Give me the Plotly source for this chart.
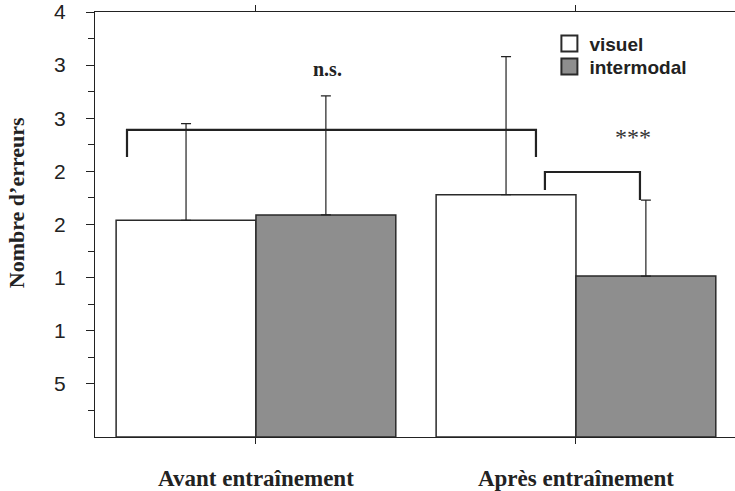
import plotly.graph_objects as go

categories = ["Avant entraînement", "Après entraînement"]
visuel = [2.04, 2.28]
visuel_err = [0.91, 1.30]
intermodal = [2.09, 1.515]
intermodal_err = [1.12, 0.715]
y_tickvals = [0.5, 1, 1.5, 2, 2.5, 3, 3.5, 4]
y_ticktext = ["5", "1", "1", "2", "2", "3", "3", "4"]

# significance brackets (x in category index units, y in data units)
bracket_ns_x = [-0.403, -0.403, 0.875, 0.875]
bracket_ns_y = [2.635, 2.89, 2.89, 2.635]
bracket_sig_x = [0.903, 0.903, 1.2, 1.2]
bracket_sig_y = [2.325, 2.494, 2.494, 2.231]

xs = [0, 1]
LINE = "#2a2a2a"
GRAY = "#8e8e8e"

fig = go.Figure()
fig.add_trace(go.Bar(
    x=xs, y=visuel, name="visuel", showlegend=False,
    marker=dict(color="white", line=dict(color=LINE, width=1.5)),
    error_y=dict(type="data", symmetric=False, array=visuel_err,
                 arrayminus=[0, 0], color="#222", thickness=1.2, width=5),
))
fig.add_trace(go.Bar(
    x=xs, y=intermodal, name="intermodal", showlegend=False,
    marker=dict(color=GRAY, line=dict(color=LINE, width=1.5)),
    error_y=dict(type="data", symmetric=False, array=intermodal_err,
                 arrayminus=[0, 0], color="#222", thickness=1.2, width=5),
))
# legend entries with larger square symbols (two legends for tighter spacing)
for name, col, lg in [("visuel", "white", "legend"), ("intermodal", GRAY, "legend2")]:
    fig.add_trace(go.Scatter(
        x=[None], y=[None], mode="markers", name=name, legend=lg,
        marker=dict(symbol="square", size=16, color=col,
                    line=dict(color=LINE, width=2)),
    ))

for bx, by in [(bracket_ns_x, bracket_ns_y), (bracket_sig_x, bracket_sig_y)]:
    path = "M " + " L ".join(f"{a},{b}" for a, b in zip(bx, by))
    fig.add_shape(type="path", path=path, xref="x", yref="y",
                  line=dict(color="#222", width=2.2))

fig.add_annotation(x=0.222, y=3.46, xref="x", yref="y", text="<b>n.s.</b>",
                   showarrow=False,
                   font=dict(family="Liberation Serif", size=20, color="#222"))
fig.add_annotation(x=1.178, y=2.82, xref="x", yref="y", text="***",
                   showarrow=False,
                   font=dict(family="Liberation Serif", size=24, color="#333333"))
fig.add_annotation(x=0, y=0.55, xref="paper", yref="paper",
                   xshift=-79, text="<b>Nombre d’erreurs</b>", textangle=-90,
                   showarrow=False, xanchor="center", yanchor="middle",
                   font=dict(family="Liberation Serif", size=22, color="#222"))

legend_font = dict(family="Liberation Sans", size=19, color="#222", weight="bold")
fig.update_layout(
    width=735, height=491,
    margin=dict(l=95, r=0, t=12, b=54, autoexpand=False),
    paper_bgcolor="white", plot_bgcolor="white",
    barmode="group", bargap=0.126, bargroupgap=0,
    showlegend=True,
    legend=dict(x=0.71, y=0.97, xanchor="left", yanchor="top",
                font=legend_font, bgcolor="rgba(0,0,0,0)", itemwidth=30),
    legend2=dict(x=0.71, y=0.916, xanchor="left", yanchor="top",
                 font=legend_font, bgcolor="rgba(0,0,0,0)", itemwidth=30),
    font=dict(family="Liberation Sans", color="#222"),
)
fig.update_xaxes(
    range=[-0.503, 1.497], tickvals=xs,
    ticktext=[f"<b>{c}</b>" for c in categories],
    tickfont=dict(family="Liberation Serif", size=23, color="#222"),
    showline=True, linecolor="#222", linewidth=1.2, mirror="ticks",
    ticks="outside", ticklen=6, tickcolor="#222", ticklabelstandoff=14,
    showgrid=False, zeroline=False, automargin=False,
)
fig.update_yaxes(
    range=[0, 4], tickvals=y_tickvals, ticktext=y_ticktext,
    tickfont=dict(family="Liberation Sans", size=21, color="#222"),
    showline=True, linecolor="#222", linewidth=1.2, mirror=False,
    ticks="outside", ticklen=8, tickcolor="#222", ticklabelstandoff=16,
    minor=dict(tickvals=[0.25, 0.75, 1.25, 1.75, 2.25, 2.75, 3.25, 3.75],
               ticks="outside", ticklen=6, tickcolor="#222"),
    showgrid=False, zeroline=False, automargin=False,
)

fig.write_html("out.html", config={"displayModeBar": False},
               post_script="document.body.style.margin='0';")
